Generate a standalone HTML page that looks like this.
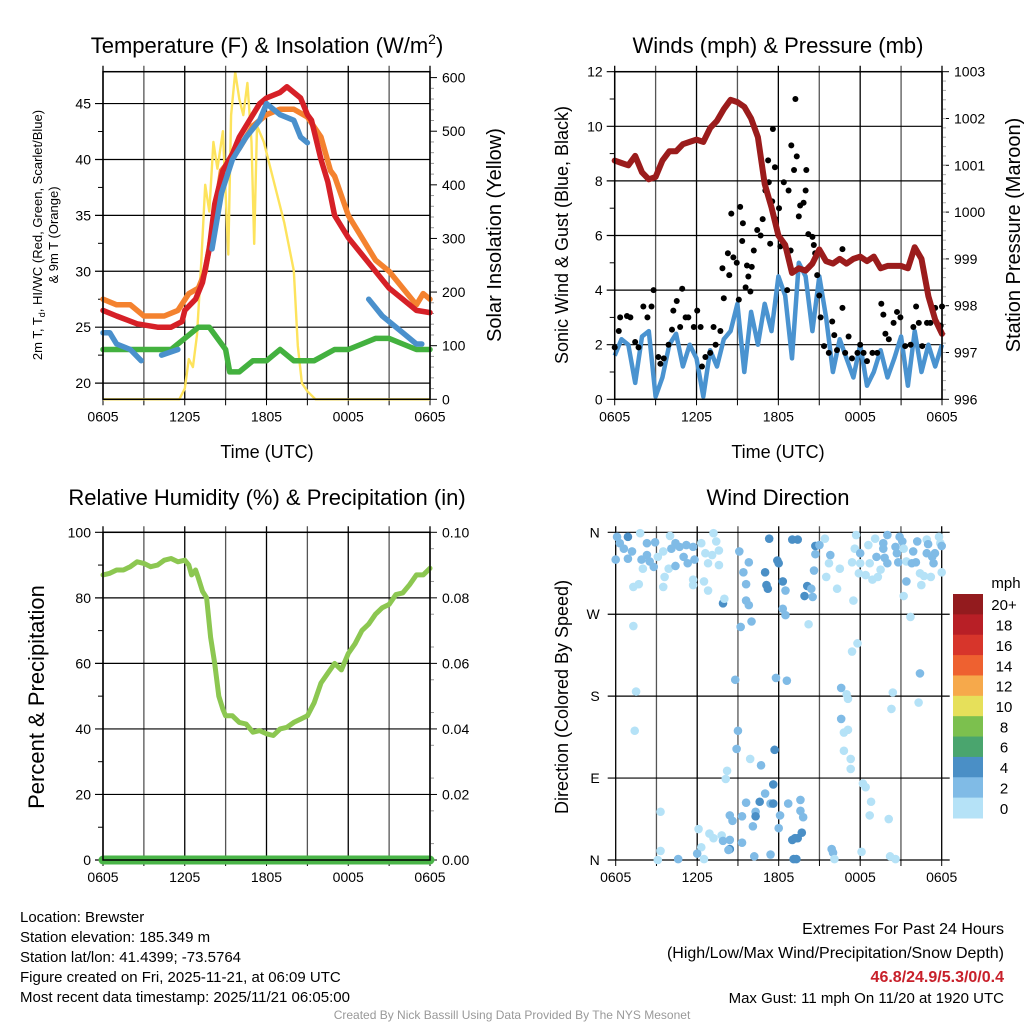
<!DOCTYPE html>
<html><head><meta charset="utf-8">
<style>
body{margin:0;background:#fff;}
svg{display:block;font-family:"Liberation Sans",Arial,sans-serif;}
</style></head>
<body>
<svg id="c" width="1024" height="1024" viewBox="0 0 1024 1024" xmlns="http://www.w3.org/2000/svg">
<rect width="1024" height="1024" fill="#fff"/>
</svg>
<script>
// ---------- DATA ----------
const xTickLabels = ["0605","1205","1805","0005","0605"];
const tempHours = [0,1,2.5,4,5,5.8,6,6.8,7.3,7.8,8.2,8.8,9.5,10,11,11.5,12,13,13.5,14.5,15,15.3,16,16.5,17,18,19,20,21,22,23,24];
const tempRed =   [26.5,26,25.3,25,25,25.5,26.5,27.5,29,32,36,39,40.5,42,44,45,45.5,46,46.5,45.5,44,43.5,40,38,35,33,31.5,30,28.5,27.5,26.5,26.3];
const orangeHours=[0,1,2,3,4.5,5.5,6.3,7,7.5,8.2,8.7,10,11,12,13,14,15,16,16.7,17,18,19,20,21,22,23,23.5,24];
const tempOrange=[27.5,27,27,26,26,26.5,28,28.5,30,35,39,41,43,44,44.5,44.5,43.8,42,39,38.5,35,33,31,30,28.5,27,28,27.5];
const blueHours = [0,0.5,1,2,2.8,3.1,4.3,5.5,6.5,7.8,8,8.7,9.5,10.5,11.5,12,13,14,14.5,15,15.3,16.8,17,19.5,20.5,22,23,23.4];
const tempBlue =  [24.5,24.5,23.5,23,22,null,22.5,23,null,null,32,37,40,42,43.5,45,44,43.5,42,41.5,null,35,null,27.5,26,24.5,23.5,23.5];
const dewHours =  [0,1,3,5,6,7,7.8,9,9.3,10,11,12,13,14,15,15.5,17,18,19,20,21,22,23,24];
const tempDew =   [23,23,23,23,24,25,25,23,21,21,22,22,23,22,22,22,23,23,23.5,24,24,23.5,23,23];
const solarHours =[0,5.6,6.0,6.3,6.6,6.9,7.2,7.5,7.8,8.1,8.4,8.8,9.2,9.4,9.7,10.0,10.3,10.6,10.9,11.1,11.3,11.8,12.5,13.3,14.0,14.3,14.6,15.0,15.6,24];
const solarVals = [0,0,20,75,60,120,250,400,350,480,430,500,270,530,610,560,530,590,480,290,510,480,410,330,240,100,30,15,0,0];
const windHours = [0,0.5,1,1.5,2,2.5,3,3.5,4,4.5,5,5.5,6,6.5,7,7.5,8,8.5,9,9.5,10,10.5,11,11.5,12,12.5,13,13.5,14,14.5,15,15.5,16,16.5,17,17.5,18,18.5,19,19.5,20,20.5,21,21.5,22,22.5,23,23.5,24];
const windSpeed = [1.6,2.2,2.0,0.6,2.3,2.5,0.1,0.8,2.0,2.4,1.2,2.0,1.5,0.1,1.8,1.2,2.2,2.5,3.5,1.0,3.2,2.0,3.5,2.5,4.5,3.8,1.5,5.0,4.5,2.5,4.5,3.0,1.0,2.2,1.5,0.8,2.0,0.5,1.0,1.8,0.8,1.5,2.3,0.5,2.5,1.0,2.0,1.2,2.0];
const pressure =  [1001.1,1001.05,1001.0,1001.2,1000.85,1000.7,1000.75,1001.1,1001.3,1001.3,1001.45,1001.5,1001.55,1001.5,1001.8,1001.95,1002.2,1002.4,1002.35,1002.25,1002.0,1001.6,1000.6,1000.1,999.5,999.3,998.7,998.8,998.75,998.9,999.2,998.95,998.9,999.0,998.9,999.0,999.05,998.95,999.05,998.8,998.85,998.85,998.85,998.8,999.25,999.0,998.2,997.7,997.4];
const gustHours = [0,0.3,0.4,0.9,1.15,1.5,1.75,2.1,2.4,2.7,2.85,3.2,3.35,3.6,3.95,4.2,4.3,4.55,4.95,4.8,5.2,5.4,5.8,6.05,6.3,6.4,6.65,7.0,7.25,7.4,7.75,7.9,8.0,8.3,8.4,8.55,8.7,8.95,9.1,9.2,9.4,9.35,9.6,9.7,9.8,9.95,10.05,10.2,10.45,10.7,10.85,11.05,11.25,11.3,11.4,11.55,11.6,11.75,11.8,12.05,12.15,12.4,12.65,12.75,12.9,12.95,13.15,13.25,13.35,13.5,13.6,13.85,14.0,14.05,14.2,14.5,14.6,14.7,14.85,15.0,15.1,15.35,15.7,15.95,16.1,16.3,16.7,16.7,16.9,17.15,17.4,17.8,18.0,18.25,18.5,18.9,19.25,19.55,19.7,19.85,20.1,20.45,20.7,20.95,21.3,21.7,21.9,22.1,22.3,22.55,22.9,23.15,23.5,23.9,24.0];
const gustVals =  [1.9,2.5,3.0,3.05,3.0,2.1,1.9,3.4,3.0,3.4,4.0,1.55,1.3,1.5,2.0,2.55,3.25,3.6,4.05,2.65,3.0,3.0,2.65,3.25,2.65,1.2,1.55,1.7,2.65,2.0,2.5,4.8,3.7,5.35,4.55,6.8,5.2,5.0,3.65,7.05,6.45,5.8,4.1,4.9,4.5,3.95,4.85,5.45,6.2,6.0,6.6,7.65,8.75,7.95,5.7,7.25,9.9,8.5,6.6,7.0,5.6,7.95,4.0,7.65,5.45,9.3,8.4,11.0,8.9,6.7,7.1,7.2,7.65,8.4,6.05,5.95,5.65,5.35,4.55,3.8,3.0,1.95,1.7,2.85,2.35,1.8,5.5,3.35,1.7,2.3,1.5,1.7,2.0,1.7,1.4,1.7,1.7,3.5,3.1,2.4,2.2,2.8,3.2,3.0,1.95,2.0,2.65,3.4,2.8,1.95,2.8,2.8,3.35,2.7,3.4];
const rhHours = [0,0.5,1,1.5,2,2.5,3,3.5,4,4.5,5,5.5,6,6.3,6.5,6.8,7,7.3,7.6,7.9,8.2,8.5,8.8,9,9.5,10,10.5,11,11.5,12,12.5,13,13.5,14,14.5,15,15.5,16,16.5,17,17.5,18,18.5,19,19.5,20,20.5,21,21.5,22,22.5,23,23.5,24];
const rhVals =  [87,87.5,88.5,88.5,89.5,91,90.5,89.5,90,91.5,92,91,91.5,90,87,88.5,86,82,80,68,60,50,46,44,44,42,41.5,39,39.5,38.5,38,40,40.5,42,43,44,48,54,57,60,58,63,66,70,72,75,77,78,81,81.5,84,87,87,89];
const precipHours = [0,24];
const precipVals = [0,0];
const dirHours = [0.1,0.3,0.9,0.6,0.9,0.0,1.2,1.8,1.9,2.0,2.3,2.3,2.5,2.9,2.8,3.1,3.5,3.6,3.9,4.0,4.1,4.4,4.4,4.7,5.0,5.2,5.3,5.7,5.8,6.3,6.6,6.8,7.1,7.2,7.4,7.6,7.6,5.7,5.7,6.5,6.8,1.3,1.7,3.5,1.3,1.5,1.4,3.3,3.3,3.1,4.6,
 9.1,9.8,9.4,9.6,7.9,8.0,9.6,9.8,9.2,10.0,11.0,11.1,11.2,11.3,11.9,12.0,12.3,12.5,12.3,12.5,13.0,13.4,14.1,13.9,14.4,14.5,14.6,14.7,14.7,15.0,14.2,8.8,11.8,12.6,9.0,8.9,9.9,10.7,11.7,8.2,8.1,11.6,11.0,10.6,11.4,11.6,9.6,10.3,12.7,13.6,8.4,8.6,9.3,10.3,12.1,13.6,13.8,10.1,12.0,6.1,6.9,7.8,7.2,7.9,8.4,8.4,8.3,6.3,6.0,6.5,9.3,10.2,11.4,13.0,13.2,13.4,13.7,13.1,13.3,
 15.4,15.8,15.7,15.5,16.3,16.5,17.4,17.6,17.7,18.0,18.0,17.9,18.4,18.6,18.7,18.9,19.1,19.2,19.3,19.5,19.7,19.7,19.8,20.0,20.0,20.6,20.7,20.8,20.9,21.1,21.2,21.4,21.2,21.4,21.8,21.9,22.2,22.1,22.4,22.5,22.9,23.0,22.9,23.3,23.5,23.4,23.8,23.9,24.0,24.0,23.2,22.7,21.7,17.5,17.8,17.4,22.4,16.6,17.0,17.1,20.4,20.3,22.3,16.6,17.1,16.8,16.8,17.3,17.3,18.2,18.4,18.8,18.7,20.1,15.9,16.0,16.1,18.1,20.2,20.6];
const dirDeg = [355,348,355,342,331,330,339,359,330,320,348,335,328,349,322,333,339,311,320,356,342,348,323,344,333,346,326,344,330,348,337,326,335,359,350,324,340,308,302,306,296,300,303,300,257,185,142,53,10,0,1,
 339,327,316,303,282,287,285,280,256,262,316,302,298,353,329,326,306,296,276,269,352,352,301,290,298,289,318,336,345,346,259,198,200,197,142,122,111,104,121,98,89,83,73,64,62,62,63,53,62,66,49,43,48,48,49,54,47,37,35,34,29,27,24,21,22,12,11,14,7,1,19,4,6,22,24,24,30,1,1,
 353,335,326,311,298,320,327,342,357,337,326,315,313,346,326,308,353,333,311,319,348,342,332,357,326,344,337,327,355,350,342,306,290,328,326,339,350,327,315,302,352,347,337,333,337,326,355,348,345,316,311,312,267,285,238,229,205,189,182,177,184,166,173,155,143,140,120,111,100,84,80,64,49,45,12,8,1,9,4,1];
const dirSpeed = [3,3,5,3,3,3,3,1,3,1,3,3,3,3,3,1,1,1,1,1,3,3,3,3,3,3,3,3,3,1,1,1,1,1,1,1,1,1,1,1,1,1,1,1,1,1,1,1,1,1,3,
 3,3,3,3,5,1,3,3,3,3,5,5,5,5,5,5,5,3,3,3,5,5,5,5,3,3,3,3,5,3,1,3,3,3,3,3,1,3,5,1,1,5,3,5,3,5,3,3,3,3,3,3,3,5,3,3,3,3,3,1,1,1,1,3,3,5,3,1,3,1,3,3,3,5,5,5,5,5,5,
 1,3,1,1,1,1,1,1,1,3,1,1,1,1,1,1,1,3,1,1,3,3,3,3,3,3,3,3,3,3,1,3,1,1,3,3,3,3,1,1,1,3,3,3,3,3,1,1,3,1,1,1,1,1,1,1,3,3,1,1,1,1,1,3,1,1,1,1,1,1,1,1,1,1,3,3,1,1,1,1];
const cbLabels = ["20+","18","16","14","12","10","8","6","4","2","0"];
const cbColors = ["#931b1e","#b81f26","#d7352b","#ee6130","#f6a94b","#e6e05a","#7cc04e","#4aa56e","#4a8fc6","#80bbe6","#b5e2f7"];

// ---------- DRAW ----------
const NS="http://www.w3.org/2000/svg";
const svg=document.getElementById('c');
function mk(tag,attrs,parent){const e=document.createElementNS(NS,tag);for(const k in attrs)e.setAttribute(k,attrs[k]);(parent||svg).appendChild(e);return e;}
function txt(s,x,y,size,anchor,parent,extra){const e=mk('text',Object.assign({x:x,y:y,'font-size':size,'text-anchor':anchor||'middle',fill:'#000'},extra||{}),parent);e.textContent=s;return e;}
function lin(a,b,c,d,col,w,parent){return mk('line',{x1:a,y1:b,x2:c,y2:d,stroke:col,'stroke-width':w},parent);}

function panel(name,L,R,T,B){
  const g=mk('g',{});
  
  
  const xs=h=>L+(R-L)*h/24;
  for(let h=0;h<=24;h+=3){lin(xs(h),T-6,xs(h),B,(h%6===0)?'#000':'#555',1.3,g);lin(xs(h),B,xs(h),B+6,'#000',1,g);}
  return {g,xs};
}
function xLabels(g,xs,B){xTickLabels.forEach((l,i)=>{const t=txt(l,xs(i*6),B+22,14,'middle',g);});}
function pathFrom(hours,vals,xs,ys){let d='',pen=false;for(let i=0;i<hours.length;i++){if(vals[i]===null){pen=false;continue;}d+=(pen?'L':'M')+xs(hours[i]).toFixed(1)+','+ys(vals[i]).toFixed(1);pen=true;}return d;}

// ===== Panel 1 Temperature =====
(function(){
  const L=103,R=430,T=71.7,B=399.3;
  const {g,xs}=panel('temperature-panel',L,R,T,B);
  const ymin=18.55,ymax=47.85; const ys=v=>B-(v-ymin)/(ymax-ymin)*(B-T);
  const smin=0,smax=611; const ss=v=>B-(v-smin)/(smax-smin)*(B-T);
  for(let v=20;v<=45;v+=5){lin(L-8,ys(v),R,ys(v),'#000',1.2,g);const t=txt(String(v),L-12,ys(v)+5,14,'end',g);}
  for(let v=20;v<=47;v+=2.5)if(v%5)lin(L-5,ys(v),L,ys(v),'#000',1,g);
  for(let v=0;v<=600;v+=100){lin(R,ss(v),R+7,ss(v),'#000',1,g);const t=txt(String(v),R+12,ss(v)+5,14,'start',g);}
  for(let v=20;v<=600;v+=20)if(v%100)lin(R,ss(v),R+4,ss(v),'#999',1,g);
  const sol=mk('path',{d:pathFrom(solarHours,solarVals,xs,ss),fill:'none',stroke:'#fde35c','stroke-width':2.4,'stroke-linejoin':'round'},g);
  
  const series=[[orangeHours,tempOrange,'#f4822f','temp-9m-line'],[dewHours,tempDew,'#43b13f','dewpoint-line'],[tempHours,tempRed,'#d62027','temp-2m-line'],[blueHours,tempBlue,'#4a90cc','wind-chill-line']];
  series.forEach(s=>{const p=mk('path',{d:pathFrom(s[0],s[1],xs,ys),fill:'none',stroke:s[2],'stroke-width':5.5,'stroke-linejoin':'round','stroke-linecap':'round'},g);});
  mk('rect',{x:L,y:T,width:R-L,height:B-T,fill:'none',stroke:'#000','stroke-width':1.5},g);
  xLabels(g,xs,B);
  const t1=mk('text',{x:267,y:53,'font-size':22,'text-anchor':'middle'});t1.innerHTML='Temperature (F) &amp; Insolation (W/m<tspan dy="-9" font-size="14">2</tspan><tspan dy="9">)</tspan>';
  
  const xt=txt('Time (UTC)',267,458,18,'middle');
  const yl=mk('text',{transform:'translate(42,235) rotate(-90)','font-size':13,'text-anchor':'middle'});yl.innerHTML='2m T, T<tspan dy="3" font-size="9">d</tspan><tspan dy="-3">, HI/WC (Red, Green, Scarlet/Blue)</tspan>';
  
  const yl2=txt('& 9m T (Orange)',0,0,13,'middle',svg,{transform:'translate(58,235) rotate(-90)'});
  const yr=txt('Solar Insolation (Yellow)',0,0,20,'middle',svg,{transform:'translate(501,235) rotate(-90)'});
})();

// ===== Panel 2 Winds =====
(function(){
  const L=614.7,R=942,T=71.7,B=399.3;
  const {g,xs}=panel('winds-panel',L,R,T,B);
  const ys=v=>B-v/12*(B-T);
  const ps=v=>B-(v-996)/7*(B-T);
  for(let v=0;v<=12;v+=2){lin(L-8,ys(v),R,ys(v),'#000',1.2,g);const t=txt(String(v),L-12,ys(v)+5,14,'end',g);}
  for(let v=1;v<12;v+=2)lin(L-5,ys(v),L,ys(v),'#000',1,g);
  for(let v=996;v<=1003;v++){lin(R,ps(v),R+7,ps(v),'#000',1,g);const t=txt(String(v),R+12,ps(v)+5,14,'start',g);}
  for(let v=996.2;v<1003;v+=0.2)lin(R,ps(v),R+4,ps(v),'#aaa',1,g);
  const w=mk('path',{d:pathFrom(windHours,windSpeed,xs,ys),fill:'none',stroke:'#4a93d0','stroke-width':4.5,'stroke-linejoin':'round'},g);
  
  gustHours.forEach((h,i)=>{const c=mk('circle',{cx:xs(h),cy:ys(gustVals[i]),r:3,fill:'#000'},g);});
  const p=mk('path',{d:pathFrom(windHours,pressure,xs,ps),fill:'none',stroke:'#9b1c1c','stroke-width':6,'stroke-linejoin':'round','stroke-linecap':'round'},g);
  
  mk('rect',{x:L,y:T,width:R-L,height:B-T,fill:'none',stroke:'#000','stroke-width':1.5},g);
  xLabels(g,xs,B);
  const t=txt('Winds (mph) & Pressure (mb)',778,53,22,'middle');
  const xt=txt('Time (UTC)',778,458,18,'middle');
  const yl=txt('Sonic Wind & Gust (Blue, Black)',0,0,18,'middle',svg,{transform:'translate(568,235) rotate(-90)'});
  const yr=txt('Station Pressure (Maroon)',0,0,20,'middle',svg,{transform:'translate(1020,235) rotate(-90)'});
})();

// ===== Panel 3 RH =====
(function(){
  const L=103,R=430,T=532.3,B=860;
  const {g,xs}=panel('humidity-panel',L,R,T,B);
  const ys=v=>B-v/100*(B-T);
  const ps=v=>B-v/0.1*(B-T);
  for(let v=0;v<=100;v+=20){lin(L-8,ys(v),R,ys(v),'#000',1.2,g);const t=txt(String(v),L-12,ys(v)+5,14,'end',g);}
  for(let v=10;v<100;v+=20)lin(L-5,ys(v),L,ys(v),'#000',1,g);
  for(let i=0;i<=5;i++){const v=i*0.02;lin(R,ps(v),R+7,ps(v),'#000',1,g);const t=txt(v.toFixed(2),R+12,ps(v)+5,14,'start',g);}
  for(let v=0.005;v<0.1;v+=0.01)lin(R,ps(v),R+4,ps(v),'#999',1,g);
  const rh=mk('path',{d:pathFrom(rhHours,rhVals,xs,ys),fill:'none',stroke:'#8cc751','stroke-width':5,'stroke-linejoin':'round','stroke-linecap':'round'},g);
  
  const pr=mk('path',{d:pathFrom(precipHours,precipVals,xs,ps),fill:'none',stroke:'#4ab548','stroke-width':9,'stroke-linecap':'round'},g);
  
  mk('rect',{x:L,y:T,width:R-L,height:B-T,fill:'none',stroke:'#000','stroke-width':1.5},g);
  xLabels(g,xs,B);
  const t=txt('Relative Humidity (%) & Precipitation (in)',267,505,22,'middle');
  const yl=txt('Percent & Precipitation',0,0,22,'middle',svg,{transform:'translate(44,697) rotate(-90)'});
})();

// ===== Panel 4 Wind Direction =====
(function(){
  const L=615.7,R=941.7,T=532.3,B=860;
  const {g,xs}=panel('wind-direction-panel',L,R,T,B);
  const ys=v=>B-v/360*(B-T);
  ['N','E','S','W','N'].forEach((l,i)=>{const v=i*90;lin(L-8,ys(v),R+8,ys(v),'#000',1.2,g);const t=txt(l,L-16,ys(v)+5,14,'end',g);});
  const binColor=s=>cbColors[10-Math.min(10,Math.floor((s||0)/2))];
  dirHours.forEach((h,i)=>{const c=mk('circle',{cx:xs(h),cy:ys(dirDeg[i]),r:4.3,fill:binColor(dirSpeed[i])},g);});
  xLabels(g,xs,B);
  const t=txt('Wind Direction',778,505,22,'middle');
  const yl=txt('Direction (Colored By Speed)',0,0,18,'middle',svg,{transform:'translate(568,697) rotate(-90)'});
  const cb=mk('g',{});
  const cT=594,cH=(818-594)/11;
  cbColors.forEach((c,i)=>{const r=mk('rect',{x:953,y:cT+i*cH,width:30,height:cH+0.5,fill:c},cb);
    const l=txt(cbLabels[i],1004,cT+i*cH+cH/2+6,15,'middle',cb);});
  const u=txt('mph',1006,588,15,'middle',cb);
})();

// ===== Footer text =====
(function(){
  const info=['Location: Brewster','Station elevation: 185.349 m','Station lat/lon: 41.4399; -73.5764','Figure created on Fri, 2025-11-21, at 06:09 UTC','Most recent data timestamp: 2025/11/21 06:05:00'];
  info.forEach((s,i)=>{const t=txt(s,20,922+i*20,15,'start');});
  const a=txt('Extremes For Past 24 Hours',1004,934,16,'end');
  const b=txt('(High/Low/Max Wind/Precipitation/Snow Depth)',1004,958,16,'end');
  const c=txt('46.8/24.9/5.3/0/0.4',1004,982,16,'end',svg,{fill:'#c8202a','font-weight':'bold'});
  const d=txt('Max Gust: 11 mph On 11/20 at 1920 UTC',1004,1003,15,'end');
  const e=txt('Created By Nick Bassill Using Data Provided By The NYS Mesonet',512,1019,12,'middle',svg,{fill:'#999'});
})();
</script>
</body></html>
